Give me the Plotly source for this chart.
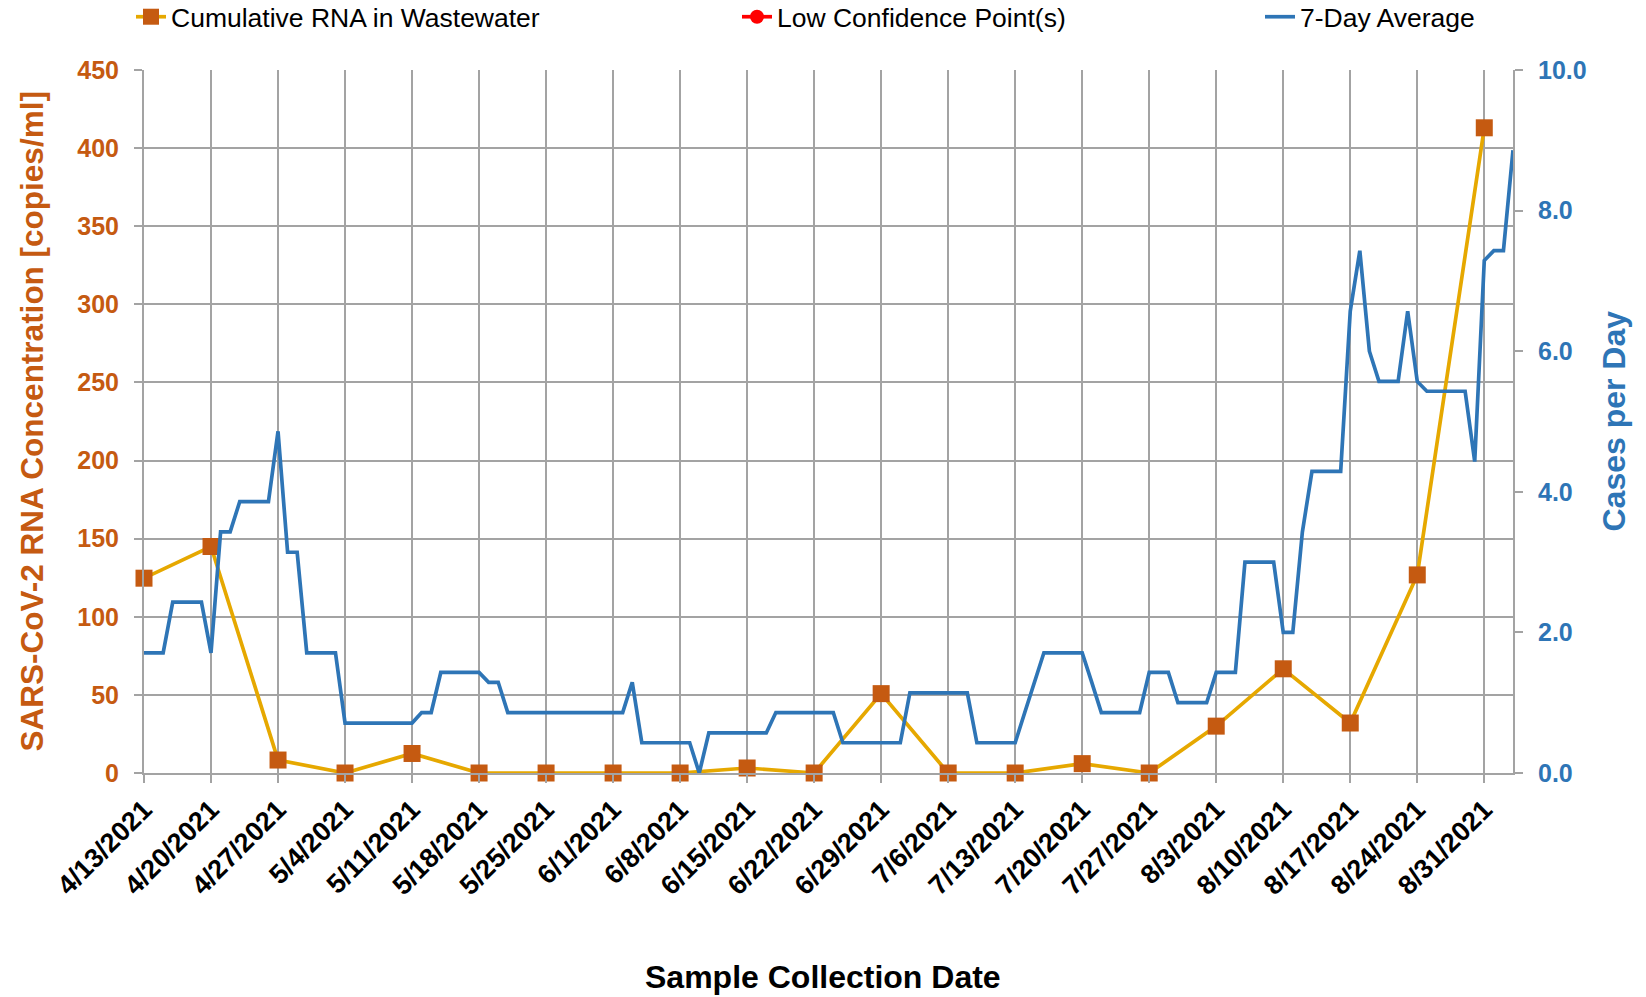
import pandas as pd
import plotly.graph_objects as go

# ---- data ----
sample_dates = ["2021-04-13", "2021-04-20", "2021-04-27", "2021-05-04", "2021-05-11",
                "2021-05-18", "2021-05-25", "2021-06-01", "2021-06-08", "2021-06-15",
                "2021-06-22", "2021-06-29", "2021-07-06", "2021-07-13", "2021-07-20",
                "2021-07-27", "2021-08-03", "2021-08-10", "2021-08-17", "2021-08-24",
                "2021-08-31"]
tick_labels = ["4/13/2021", "4/20/2021", "4/27/2021", "5/4/2021", "5/11/2021",
               "5/18/2021", "5/25/2021", "6/1/2021", "6/8/2021", "6/15/2021",
               "6/22/2021", "6/29/2021", "7/6/2021", "7/13/2021", "7/20/2021",
               "7/27/2021", "8/3/2021", "8/10/2021", "8/17/2021", "8/24/2021",
               "8/31/2021"]
rna = [124.7, 145.0, 8.3, 0, 12.5, 0, 0, 0, 0, 3.2, 0, 50.8, 0, 0, 6.0, 0,
       30.0, 66.7, 32.0, 126.8, 413.0]

cases_start = "2021-04-13"
cases_7day = [
    1.71, 1.71, 1.71, 2.43, 2.43, 2.43, 2.43, 1.71, 3.43, 3.43,
    3.86, 3.86, 3.86, 3.86, 4.86, 3.14, 3.14, 1.71, 1.71, 1.71,
    1.71, 0.71, 0.71, 0.71, 0.71, 0.71, 0.71, 0.71, 0.71, 0.86,
    0.86, 1.43, 1.43, 1.43, 1.43, 1.43, 1.29, 1.29, 0.86, 0.86,
    0.86, 0.86, 0.86, 0.86, 0.86, 0.86, 0.86, 0.86, 0.86, 0.86,
    0.86, 1.29, 0.43, 0.43, 0.43, 0.43, 0.43, 0.43, 0.00, 0.57,
    0.57, 0.57, 0.57, 0.57, 0.57, 0.57, 0.86, 0.86, 0.86, 0.86,
    0.86, 0.86, 0.86, 0.43, 0.43, 0.43, 0.43, 0.43, 0.43, 0.43,
    1.14, 1.14, 1.14, 1.14, 1.14, 1.14, 1.14, 0.43, 0.43, 0.43,
    0.43, 0.43, 0.86, 1.29, 1.71, 1.71, 1.71, 1.71, 1.71, 1.29,
    0.86, 0.86, 0.86, 0.86, 0.86, 1.43, 1.43, 1.43, 1.00, 1.00,
    1.00, 1.00, 1.43, 1.43, 1.43, 3.00, 3.00, 3.00, 3.00, 2.00,
    2.00, 3.43, 4.29, 4.29, 4.29, 4.29, 6.57, 7.43, 6.00, 5.57,
    5.57, 5.57, 6.57, 5.57, 5.43, 5.43, 5.43, 5.43, 5.43, 4.43,
    7.29, 7.43, 7.43, 8.86]
cases_dates = pd.date_range(cases_start, periods=len(cases_7day), freq="D")

left_title = "SARS-CoV-2 RNA Concentration [copies/ml]"
right_title = "Cases per Day"
x_title = "Sample Collection Date"

# ---- style ----
ORANGE_LINE = "#E6A800"
ORANGE_MARK = "#C55A11"
BLUE = "#2E75B6"
GRID = "#A3A3A3"
FONT = "Liberation Sans, Arial, sans-serif"

fig = go.Figure()
fig.add_trace(go.Scatter(
    x=sample_dates, y=rna, name="Cumulative RNA in Wastewater", mode="lines+markers",
    line=dict(color=ORANGE_LINE, width=3.7),
    marker=dict(symbol="square", size=17, color=ORANGE_MARK),
    cliponaxis=False, yaxis="y", legend="legend"))
fig.add_trace(go.Scatter(
    x=[None], y=[None], name="Low Confidence Point(s)", mode="lines+markers",
    line=dict(color="#FF0000", width=3.7),
    marker=dict(symbol="circle", size=14, color="#FF0000"),
    yaxis="y", legend="legend2"))
fig.add_trace(go.Scatter(
    x=cases_dates, y=cases_7day, name="7-Day Average", mode="lines",
    line=dict(color=BLUE, width=3.7),
    yaxis="y2", legend="legend3"))

leg_common = dict(orientation="h", xref="container", yref="container",
                  yanchor="middle", y=1 - 17 / 997,
                  font=dict(family=FONT, size=26.5, color="#000000"),
                  bgcolor="rgba(0,0,0,0)", borderwidth=0)

fig.update_layout(
    width=1646, height=997,
    margin=dict(l=144, r=133, t=70, b=224, autoexpand=False),
    paper_bgcolor="white", plot_bgcolor="white",
    font=dict(family=FONT, color="#000000"),
    showlegend=True,
    legend=dict(x=(176 - 45) / 1646, **leg_common),
    legend2=dict(x=(782 - 45) / 1646, **leg_common),
    legend3=dict(x=(1305 - 45) / 1646, **leg_common),
    xaxis=dict(
        type="date", range=["2021-04-13", "2021-09-03"], automargin=False,
        tickvals=sample_dates, ticktext=tick_labels, tickangle=-45,
        tickfont=dict(family=FONT, size=27, color="#000000", weight="bold"),
        ticklabelstandoff=0,
        showgrid=True, gridcolor=GRID, gridwidth=1.6,
        ticks="outside", ticklen=8, tickcolor=GRID, tickwidth=1.6,
        showline=True, linecolor=GRID, linewidth=2,
        zeroline=False,
    ),
    yaxis=dict(
        range=[0, 450], dtick=50, tick0=0, automargin=False,
        tickfont=dict(family=FONT, size=25, color=ORANGE_MARK, weight="bold"),
        showgrid=True, gridcolor=GRID, gridwidth=2,
        ticks="outside", ticklen=8, tickcolor=GRID, tickwidth=2,
        ticklabelstandoff=10,
        showline=True, linecolor=GRID, linewidth=2, zeroline=False,
    ),
    yaxis2=dict(
        overlaying="y", side="right", anchor="x", automargin=False,
        range=[0, 10], dtick=2, tick0=0, tickformat=".1f",
        tickfont=dict(family=FONT, size=25, color=BLUE, weight="bold"),
        showgrid=False, ticks="outside", ticklen=8, tickcolor=GRID, tickwidth=2,
        ticklabelstandoff=10,
        showline=True, linecolor=GRID, linewidth=2, zeroline=False,
    ),
    annotations=[
        dict(text=left_title, textangle=-90, showarrow=False,
             xref="paper", x=0, xanchor="center", xshift=-113,
             yref="paper", y=0.5, yanchor="middle",
             font=dict(family=FONT, size=31.5, color=ORANGE_MARK, weight="bold")),
        dict(text=right_title, textangle=-90, showarrow=False,
             xref="paper", x=1, xanchor="center", xshift=100,
             yref="paper", y=0.5, yanchor="middle",
             font=dict(family=FONT, size=32, color=BLUE, weight="bold")),
        dict(text=x_title, showarrow=False,
             xref="paper", x=(823 - 144) / 1369, xanchor="center",
             yref="paper", y=0, yanchor="middle", yshift=-204,
             font=dict(family=FONT, size=32, color="#000000", weight="bold")),
    ],
)

fig.write_html("out.html", config={"displayModeBar": False},
               post_script="document.body.style.margin='0';")
